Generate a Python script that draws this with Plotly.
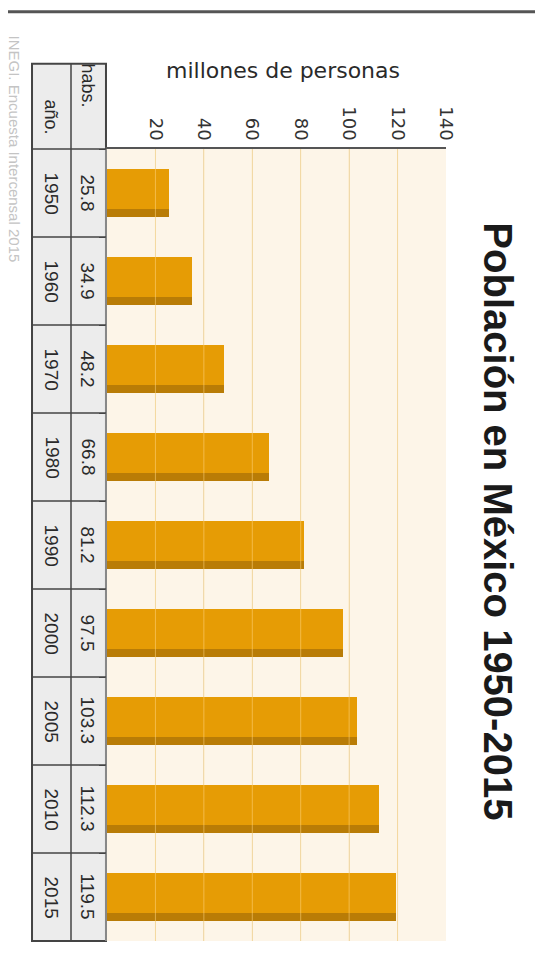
import plotly.graph_objects as go

# ---- datos ----
anios = ['1950', '1960', '1970', '1980', '1990', '2000', '2005', '2010', '2015']
habitantes = [25.8, 34.9, 48.2, 66.8, 81.2, 97.5, 103.3, 112.3, 119.5]
ticks_x = [20, 40, 60, 80, 100, 120, 140]

TITULO = 'Población en México 1950-2015'
EJE = 'millones de personas'
FUENTE = 'INEGI. Encuesta Intercensal 2015'

# ---- colores ----
NARANJA = '#E69C05'
NARANJA_OSC = '#B97C06'
FONDO = '#FDF5E8'
REJILLA = '#E8DCC3'
CELDA = '#ECECEC'
BORDE = '#444444'
TXT = '#2a2a2a'
ARIAL = 'Liberation Sans, Arial, sans-serif'
DEJAVU = 'DejaVu Sans, Verdana, sans-serif'

n = len(anios)


def nota(texto, x, y, size, family=ARIAL, color=TXT, angle=90, **kw):
    # anotación en coordenadas de papel, centrada
    return dict(text=texto, xref='paper', yref='paper', x=x, y=y,
                xanchor='center', yanchor='middle', showarrow=False,
                textangle=angle, font=dict(family=family, size=size, color=color, **kw))


fig = go.Figure()

# barra "sombra" (borde inferior oscuro) + barra clara encima
fig.add_trace(go.Bar(
    y=anios, x=habitantes, orientation='h',
    width=0.54, offset=-0.27,
    marker=dict(color=NARANJA_OSC, line=dict(width=0)),
    showlegend=False, hoverinfo='skip',
))
fig.add_trace(go.Bar(
    y=anios, x=habitantes, orientation='h',
    width=0.45, offset=-0.27,
    marker=dict(color=NARANJA, line=dict(width=0)),
    showlegend=False,
    hovertemplate='%{y}: %{x} millones<extra></extra>',
))

shapes = []
annotations = []

# rejilla por encima de las barras (se ve clara sobre el naranja)
for v in ticks_x[:-1]:
    shapes.append(dict(type='line', xref='x', yref='paper', x0=v, x1=v, y0=0, y1=1,
                       line=dict(color='rgba(255,214,130,0.55)', width=1), layer='above'))

# ---- tabla a la izquierda ----
xl, xm, xr = -0.2212, -0.1062, -0.003
y_top = 1.1075
shapes.append(dict(type='rect', xref='paper', yref='paper', x0=xl, x1=xr, y0=0, y1=y_top,
                   fillcolor=CELDA, line=dict(color=BORDE, width=2), layer='below'))
shapes.append(dict(type='line', xref='paper', yref='paper', x0=xm, x1=xm, y0=0, y1=y_top,
                   line=dict(color=BORDE, width=1.5)))
for k in range(n):
    yy = 1 - k / n
    shapes.append(dict(type='line', xref='paper', yref='paper', x0=xl, x1=xr, y0=yy, y1=yy,
                       line=dict(color=BORDE, width=1.5)))

annotations.append(nota('habs.', (xm + xr) / 2, 1.0796, 18))
annotations.append(nota('año.', (xl + xm) / 2, 1.0405, 18))
for i, (a, h) in enumerate(zip(anios, habitantes)):
    yc = 1 - (i + 0.5) / n
    annotations.append(nota(f'{h:.1f}', (xm + xr) / 2, yc, 19))
    annotations.append(nota(a, (xl + xm) / 2, yc, 19))

# ---- textos ----
annotations.append(nota(EJE, 0.519, 1.0986, 22, family=DEJAVU, angle=0))
annotations.append(nota(TITULO, 1.153, 0.530, 40, color='#1a1a1a', weight='bold'))
annotations.append(nota(FUENTE, -0.270, 1.0, 15, color='#c4c4c4'))

# ---- marco ----
shapes.append(dict(type='line', xref='paper', yref='paper', x0=-0.32, x1=1.3, y0=1.1732, y1=1.1732,
                   line=dict(color='#555555', width=3)))
shapes.append(dict(type='line', xref='paper', yref='paper', x0=1.2684, x1=1.2684, y0=-0.03, y1=1.1732,
                   line=dict(color='#999999', width=2)))

# la página html añade 8px de margen al body: figura 8px más pequeña
fig.update_layout(
    width=535, height=955, autosize=False,
    margin=dict(l=99, r=97, t=141, b=22),
    paper_bgcolor='white', plot_bgcolor=FONDO,
    barmode='overlay', bargap=0,
    shapes=shapes, annotations=annotations,
    showlegend=False,
)
fig.update_xaxes(
    range=[0, 140], side='top', tickvals=ticks_x, tickangle=90,
    tickfont=dict(family=DEJAVU, size=18, color='#333333'),
    showgrid=True, gridcolor=REJILLA, gridwidth=1,
    showline=True, linecolor='#555555', linewidth=2,
    zeroline=False, ticks='', fixedrange=True,
)
fig.update_yaxes(
    type='category', categoryorder='array', categoryarray=anios,
    range=[n - 0.5, -0.5],
    showticklabels=False, showgrid=False,
    showline=True, linecolor='#888888', linewidth=2,
    ticks='outside', tickson='boundaries', ticklen=6, tickcolor='#444444',
    fixedrange=True,
)

fig.write_html('out.html')
